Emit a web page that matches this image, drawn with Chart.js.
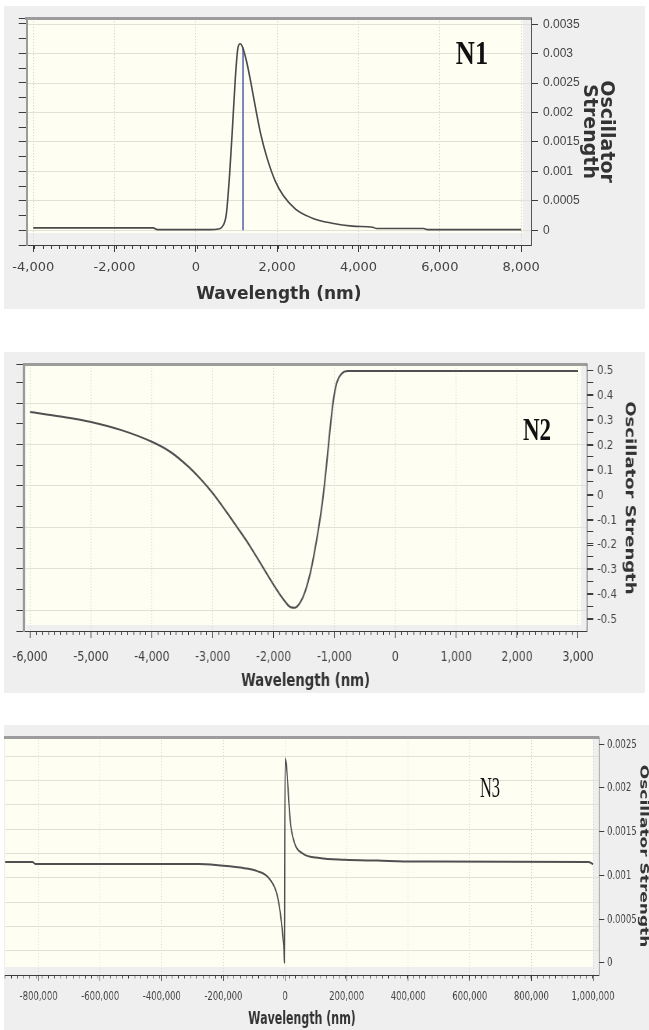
<!DOCTYPE html>
<html>
<head>
<meta charset="utf-8">
<script src="https://cdn.jsdelivr.net/npm/chart.js@4.4.1/dist/chart.umd.min.js"></script>
<style>
html,body{margin:0;padding:0;background:#ffffff;}
body{position:relative;width:649px;height:1030px;overflow:hidden;}
.panel{position:absolute;background:#efefef;overflow:hidden;}
.panel canvas{position:absolute;left:0;top:0;transform-origin:0 0;}
.tag{position:absolute;font-family:'Liberation Serif','Times New Roman',serif;color:#111;line-height:1;white-space:nowrap;}
</style>
</head>
<body>
<div class="panel" style="left:4px;top:6px;width:641px;height:303px">
  <canvas id="c1" width="641" height="303" style="width:641px;height:303px"></canvas>
</div>
<div class="panel" style="left:4px;top:352px;width:641px;height:341px">
  <canvas id="c2" width="822" height="341" style="width:822px;height:341px;transform:scaleX(0.78)"></canvas>
</div>
<div class="panel" style="left:4px;top:725px;width:645px;height:305px">
  <canvas id="c3" width="992" height="305" style="width:992px;height:305px;transform:scaleX(0.65)"></canvas>
</div>
<div class="tag" style="left:472px;top:53px;font-size:33px;font-weight:bold;transform:translate(-50%,-50%) scaleX(0.8)">N1</div>
<div class="tag" style="left:537px;top:429px;font-size:32px;font-weight:bold;transform:translate(-50%,-50%) scaleX(0.72)">N2</div>
<div class="tag" style="left:490px;top:787px;font-size:30px;transform:translate(-50%,-50%) scaleX(0.55)">N3</div>

<script>
// ---------------- data ----------------
// N1
const n1Wavelength = [-4000, -1050, -950, 350, 550, 650, 750, 830, 900, 970, 1030, 1090, 1150, 1250, 1350, 1470, 1600, 1750, 1950, 2150, 2450, 2850, 3350, 3850, 4350, 4450, 5600, 5700, 8000];
const n1Strength   = [0.00004, 0.00004, 0.00001, 0.00001, 0.00002, 0.00006, 0.00028, 0.00095, 0.00174, 0.00258, 0.00308, 0.00317, 0.00311, 0.00286, 0.00252, 0.00207, 0.00162, 0.00123, 0.00084, 0.00059, 0.00036, 0.00021, 0.00012, 0.00007, 0.00005, 0.00003, 0.00003, 0.00001, 0.00001];
const n1StickWavelength = [1160, 1160];
const n1StickStrength   = [0, 0.0031];
const n1WavelengthTicks = [-4000, -2000, 0, 2000, 4000, 6000, 8000];
const n1StrengthTicks   = [0, 0.0005, 0.001, 0.0015, 0.002, 0.0025, 0.003, 0.0035];

// N2
const n2Wavelength = [-6000, -5500, -5000, -4500, -4000, -3700, -3400, -3200, -3000, -2800, -2600, -2400, -2200, -2000, -1850, -1720, -1650, -1560, -1480, -1400, -1330, -1260, -1200, -1140, -1080, -1020, -960, -880, -780, 3000];
const n2Strength   = [0.335, 0.317, 0.295, 0.262, 0.215, 0.175, 0.115, 0.065, 0.008, -0.058, -0.128, -0.2, -0.28, -0.36, -0.415, -0.45, -0.452, -0.43, -0.385, -0.315, -0.23, -0.13, -0.03, 0.1, 0.25, 0.38, 0.455, 0.49, 0.5, 0.5];
const n2WavelengthTicks = [-6000, -5000, -4000, -3000, -2000, -1000, 0, 1000, 2000, 3000];
const n2StrengthTicks   = [0.5, 0.4, 0.3, 0.2, 0.1, 0, -0.1, -0.2, -0.3, -0.4, -0.5];

// N3
const n3Wavelength = [-909000, -820000, -810000, -280000, -225000, -145000, -90000, -50000, -25000, -12000, -4000, -1500, 500, 18000, 31000, 58000, 112000, 193000, 300000, 420000, 985000, 1000000];
const n3Strength   = [0.001155, 0.001155, 0.00113, 0.00113, 0.00112, 0.00109, 0.00105, 0.00096, 0.00077, 0.00048, 0.00018, 0.0, 0.00234, 0.00159, 0.00137, 0.00125, 0.0012, 0.00118, 0.00117, 0.00116, 0.001155, 0.00113];
const n3WavelengthTicks = [-800000, -600000, -400000, -200000, 0, 200000, 400000, 600000, 800000, 1000000];
const n3StrengthTicks   = [0, 0.0005, 0.001, 0.0015, 0.002, 0.0025];

// ---------------- helpers ----------------
const DARK = '#3c3c3c';
const FONT = 'DejaVu Sans';
const HGRID = '#e1e1d6';
const VGRID = '#cfcfc4';
const NONE = 'rgba(0,0,0,0)';

function pts(xs, ys) { return xs.map((x, i) => ({x: x, y: ys[i]})); }

const creamPlugin = {
  id: 'cream',
  beforeDraw(chart, args, o) {
    const a = chart.chartArea, ctx = chart.ctx;
    ctx.save();
    ctx.fillStyle = o.color || '#fefef3';
    ctx.fillRect(a.left + o.l, a.top, (a.right - o.r) - (a.left + o.l), (a.bottom - o.b) - a.top);
    ctx.restore();
  }
};

function majorX(o) {
  return {
    type: 'linear', position: 'bottom', weight: 1, min: o.min, max: o.max, bounds: 'data',
    afterBuildTicks: s => { s.ticks = o.ticks.map(v => ({value: v})); },
    afterFit: s => { s.height = o.height; },
    ticks: {autoSkip: false, maxRotation: 0, minRotation: 0, padding: o.pad, color: '#444',
            font: {family: FONT, size: o.fs}, callback: v => Number(v).toLocaleString('en-US')},
    grid: {display: true, drawOnChartArea: true, color: VGRID, lineWidth: 1, tickLength: o.tl, tickColor: DARK, tickWidth: 1},
    border: {display: true, color: DARK, width: 1, dash: [1, 2]},
    title: {display: true, text: 'Wavelength (nm)', color: '#333',
            font: {family: FONT, weight: 'bold', size: o.tfs, lineHeight: 1.2}, padding: {top: 0, bottom: o.tpad}}
  };
}
function minorX(o) {
  return {
    type: 'linear', position: 'bottom', weight: 0, min: o.min, max: o.max, bounds: 'data',
    ticks: {display: false, stepSize: o.step, includeBounds: false},
    afterBuildTicks: s => { s.ticks = s.ticks.filter(t => t.value >= o.lo - 1e-9 && t.value <= o.hi + 1e-9); },
    afterFit: s => { s.height = 0; },
    grid: {display: true, drawOnChartArea: false, drawTicks: true, tickLength: o.tl, tickColor: DARK, tickWidth: 1, color: NONE},
    border: {display: false}
  };
}
function topBorder() {
  return {
    type: 'linear', position: 'top', min: 0, max: 1, display: true,
    ticks: {display: false}, grid: {display: false},
    border: {display: true, color: '#9c9c9c', width: 3},
    afterFit: s => { s.height = 0; }
  };
}
function rightY(o) {
  return {
    type: 'linear', position: 'right', weight: 1, min: o.min, max: o.max, bounds: 'data',
    afterBuildTicks: s => { s.ticks = o.ticks.map(v => ({value: v})); },
    afterFit: s => { s.width = o.width; },
    ticks: {autoSkip: false, padding: o.pad, color: '#444', font: {family: o.ff || FONT, size: o.fs}, callback: v => String(v)},
    grid: {display: true, drawOnChartArea: o.grid, color: HGRID, lineWidth: 1, tickLength: o.tl, tickColor: DARK, tickWidth: 1},
    border: {display: true, color: '#555', width: 1},
    title: {display: true, text: o.title, color: '#333',
            font: {family: FONT, weight: 'bold', size: o.tfs, lineHeight: o.tlh}, padding: {top: o.tpad, bottom: 0}}
  };
}
function minorY(o) {
  return {
    type: 'linear', position: 'right', weight: 0, min: o.min, max: o.max, bounds: 'data',
    ticks: {display: false, stepSize: o.step, includeBounds: false},
    afterBuildTicks: s => { s.ticks = s.ticks.filter(t => t.value >= o.lo - 1e-9 && t.value <= o.hi + 1e-9); },
    afterFit: s => { s.width = 0; },
    grid: {display: true, drawOnChartArea: false, tickLength: o.tl, tickColor: DARK, tickWidth: 1, color: NONE},
    border: {display: false}
  };
}
function leftY(o) {
  return {
    type: 'linear', position: 'left', weight: 0, min: o.min, max: o.max, bounds: 'data',
    ticks: {display: false, stepSize: 1, includeBounds: false},
    afterFit: s => { s.width = o.width; },
    grid: {display: true, drawOnChartArea: !!o.gridEvery, drawTicks: o.drawTicks !== false,
           color: c => (o.gridEvery && c.tick && Math.round(c.tick.value) % o.gridEvery === 0) ? HGRID : NONE,
           tickLength: o.tl || 0, tickColor: DARK, tickWidth: 1},
    border: {display: !!o.bw, color: '#9a9a9a', width: o.bw || 0}
  };
}
function lineSet(xs, ys, color, width, smooth) {
  return {data: pts(xs, ys), borderColor: color, borderWidth: width, pointRadius: 0, fill: false,
          cubicInterpolationMode: smooth ? 'monotone' : 'default', xAxisID: 'x', yAxisID: 'y'};
}
function makeChart(id, datasets, pad, cream, scales) {
  return new Chart(document.getElementById(id), {
    type: 'line',
    data: {datasets: datasets},
    options: {
      responsive: false, animation: false, devicePixelRatio: 1, events: [],
      layout: {autoPadding: false, padding: pad},
      plugins: {legend: {display: false}, tooltip: {enabled: false}, cream: cream},
      scales: scales
    },
    plugins: [creamPlugin]
  });
}

// ---------------- N1 ----------------
makeChart('c1',
  [lineSet(n1Wavelength, n1Strength, '#4a4a4a', 1.6, true),
   lineSet(n1StickWavelength, n1StickStrength, '#5262a8', 1.5, false)],
  {top: 8.3, left: 0, right: 0, bottom: 0},
  {l: 1.3, r: 8, b: 12},
  {
    x: majorX({min: -4160, max: 8243, ticks: n1WavelengthTicks, height: 64, pad: 8, fs: 13, tl: 7, tfs: 17, tpad: 3.8}),
    xm: minorX({min: -4160, max: 8243, step: 200, lo: -4000, hi: 8000, tl: 4}),
    xt: topBorder(),
    y: rightY({min: -0.0002506, max: 0.0036036, ticks: n1StrengthTicks, width: 114, pad: 5, fs: 12, ff: 'Liberation Sans', tl: 7, grid: true,
               title: ['Oscillator', 'Strength'], tfs: 19, tlh: 0.9, tpad: 30.5}),
    yl: leftY({min: -0.887, max: 14.493, width: 16.7, tl: 8, gridEvery: 0, bw: 2})
  });

// ---------------- N2 ----------------
makeChart('c2',
  [lineSet(n2Wavelength, n2Strength, '#505050', 2, true)],
  {top: 5, left: 0, right: 0, bottom: 0},
  {l: 2.5, r: 7.7, b: 6},
  {
    x: majorX({min: -6098, max: 3147, ticks: n2WavelengthTicks, height: 62, pad: 10.6, fs: 14, tl: 7, tfs: 17, tpad: 0.8}),
    xm: minorX({min: -6098, max: 3147, step: 100, lo: -6000, hi: 3000, tl: 4}),
    xt: topBorder(),
    y: rightY({min: -0.5457, max: 0.5246, ticks: n2StrengthTicks, width: 74.6, pad: 5, fs: 13, tl: 8, grid: false,
               title: 'Oscillator Strength', tfs: 18, tlh: 1.2, tpad: 9.9}),
    ym: minorY({min: -0.5457, max: 0.5246, step: 0.05, lo: -0.5, hi: 0.5, tl: 8}),
    yl: leftY({min: -0.548, max: 12.295, width: 20.5, tl: 10, gridEvery: 2, bw: 3})
  });

// ---------------- N3 ----------------
makeChart('c3',
  [lineSet(n3Wavelength, n3Strength, '#505050', 2, true)],
  {top: 6.7, left: 1.5, right: 0, bottom: 0},
  {l: 0, r: 9.4, b: 8},
  {
    x: majorX({min: -909090, max: 1019480, ticks: n3WavelengthTicks, height: 55, pad: 8.2, fs: 13, tl: 6, tfs: 17, tpad: 0}),
    xm: minorX({min: -909090, max: 1019480, step: 20000, lo: -909090, hi: 1000000, tl: 3.5}),
    xt: topBorder(),
    y: rightY({min: -0.0001375, max: 0.0025816, ticks: n3StrengthTicks, width: 76.6, pad: 4.3, fs: 13, tl: 8, grid: false,
               title: 'Oscillator Strength', tfs: 17, tlh: 1.2, tpad: -1.2}),
    yl: leftY({min: -0.495, max: 9.294, width: 0, gridEvery: 1, drawTicks: false, bw: 0})
  });
</script>
</body>
</html>
